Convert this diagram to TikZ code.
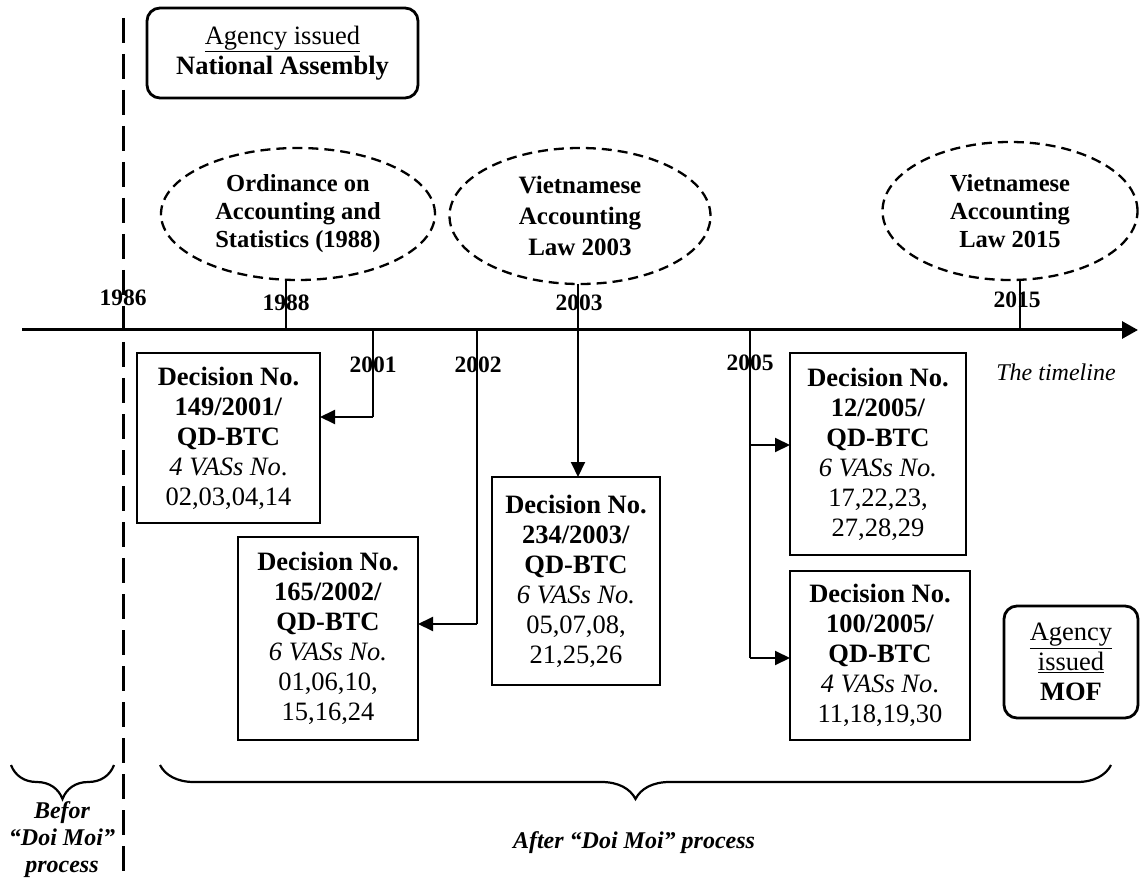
\documentclass[tikz,border=0pt]{standalone}
\usepackage{fontspec}
\setmainfont{Liberation Serif}
\usetikzlibrary{arrows.meta,shapes.geometric,decorations.pathreplacing}

\begin{document}
\begin{tikzpicture}[x=1pt,y=-1pt,
  every node/.style={inner sep=0pt, outer sep=0pt},
  txt/.style={font=\fontsize{26.5}{30}\selectfont, align=center},
  yr/.style={font=\fontsize{23.5}{27}\selectfont\bfseries},
  decbox/.style={draw, line width=1.6pt, txt},
  agency/.style={draw, line width=2.8pt, rounded corners=13pt,
    font=\fontsize{26.5}{30}\selectfont, align=center},
  event/.style={ellipse, draw, line width=2.3pt, dash pattern=on 10pt off 6pt,
    font=\fontsize{24.5}{28}\selectfont\bfseries, align=center},
  tick/.style={line width=1.3pt},
  stem/.style={line width=2pt},
  link/.style={line width=2pt, -{Triangle[length=15pt,width=14pt]}},
  brc/.style={decorate, decoration={brace, mirror, amplitude=34pt}, line width=2.2pt},
  era/.style={font=\fontsize{24}{27}\selectfont\bfseries\itshape, align=center}
]
\useasboundingbox (0,0) rectangle (1143,882);

% issuing agencies
\node[agency, minimum width=271pt, minimum height=90pt] (na) at (282.5,53)
  {\underline{Agency issued}\\\textbf{National Assembly}};
\node[agency, minimum width=134pt, minimum height=112pt] (mof) at (1071,662)
  {\underline{Agency}\\\underline{issued}\\\textbf{MOF}};

% laws passed by the National Assembly
\node[event, minimum width=274pt, minimum height=132pt] (e1988) at (298,214)
  {Ordinance on\\Accounting and\\Statistics (1988)};
\node[event, minimum width=261pt, minimum height=136pt,
  font=\fontsize{25}{31}\selectfont\bfseries] (e2003) at (580,216)
  {Vietnamese\\Accounting\\Law 2003};
\node[event, minimum width=255pt, minimum height=138pt] (e2015) at (1010,211)
  {Vietnamese\\Accounting\\Law 2015};

% decisions of the Ministry of Finance
\node[decbox, minimum width=183pt, minimum height=170pt] (b149) at (228.5,438)
  {\textbf{Decision No.}\\\textbf{149/2001/}\\\textbf{QD-BTC}\\\textit{4 VASs No}.\\02,03,04,14};
\node[decbox, minimum width=180pt, minimum height=203pt] (b165) at (328,638.5)
  {\textbf{Decision No.}\\\textbf{165/2002/}\\\textbf{QD-BTC}\\\textit{6 VASs No.}\\01,06,10,\\15,16,24};
\node[decbox, minimum width=168pt, minimum height=208pt] (b234) at (576,581)
  {\textbf{Decision No.}\\\textbf{234/2003/}\\\textbf{QD-BTC}\\\textit{6 VASs No.}\\05,07,08,\\21,25,26};
\node[decbox, minimum width=176pt, minimum height=202pt] (b12) at (878,454)
  {\textbf{Decision No.}\\\textbf{12/2005/}\\\textbf{QD-BTC}\\\textit{6 VASs No.}\\17,22,23,\\27,28,29};
\node[decbox, minimum width=180pt, minimum height=169pt] (b100) at (880,655.5)
  {\textbf{Decision No.}\\\textbf{100/2005/}\\\textbf{QD-BTC}\\\textit{4 VASs No}.\\11,18,19,30};

% the Doi Moi divider
\coordinate (dtop) at (123,18);
\coordinate (dbot) at (123,882);
\draw[line width=3pt, dash pattern=on 25pt off 11pt] (dtop) -- (dbot);

% the timeline and its years
\coordinate (tl0) at (22,330);
\coordinate (tl1) at (1138,330);
\draw[line width=3pt, -{Triangle[length=16pt,width=17pt]}] (tl0) -- (tl1);

\coordinate (t1988) at (286,330);
\coordinate (t2001) at (373,330);
\coordinate (t2002) at (477,330);
\coordinate (t2003) at (578,330);
\coordinate (t2005) at (750,330);
\coordinate (t2015) at (1020,330);

\draw[tick] (e1988.south -| t1988) -- (t1988);
\draw[tick] (e2003.south -| t2003) -- (t2003);
\draw[tick] (e2015.south -| t2015) -- (t2015);

\coordinate (k2001) at (373,417);
\coordinate (k2002) at (477,624);
\coordinate (j2005) at (750,445);
\coordinate (k2005) at (750,658);

\draw[stem] (t2001) -- (k2001);
\draw[link] (k2001) -- (k2001 -| b149.east);
\draw[stem] (t2002) -- (k2002);
\draw[link] (k2002) -- (k2002 -| b165.east);
\draw[link] (t2003) -- (t2003 |- b234.north);
\draw[stem] (t2005) -- (k2005);
\draw[link] (j2005) -- (j2005 -| b12.west);
\draw[link] (k2005) -- (k2005 -| b100.west);

\node[yr] (y1986) at (123,298) {1986};
\node[yr] (y1988) at (286,303) {1988};
\node[yr] (y2001) at (373,365) {2001};
\node[yr] (y2002) at (478,365) {2002};
\node[yr] (y2003) at (579,303) {2003};
\node[yr] (y2005) at (750,363) {2005};
\node[yr] (y2015) at (1017,300) {2015};

\node[font=\fontsize{24}{28}\selectfont\itshape] (tl) at (1056,372) {The timeline};

% periods
\coordinate (lb0) at (11,765);
\coordinate (lb1) at (114,765);
\coordinate (rb0) at (160,765);
\coordinate (rb1) at (1111,765);
\draw[brc] (lb0) -- (lb1);
\draw[brc] (rb0) -- (rb1);
\node[era] (before) at (62,840) {Befor\\``Doi Moi''\\process};
\node[era] (after) at (634,843) {After ``Doi Moi'' process};
\end{tikzpicture}
\end{document}
